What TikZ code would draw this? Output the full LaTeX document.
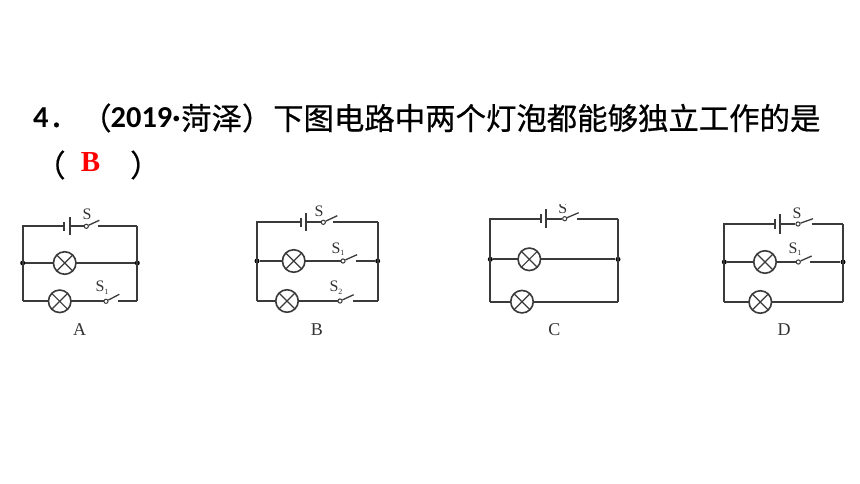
\documentclass[tikz,border=0pt]{standalone}
\usepackage{fontspec}
\setmainfont{Liberation Serif}
\newfontfamily\cjkf[FakeBold=0.6]{Noto Sans CJK SC}
\newfontfamily\latf{Carlito}
\newcommand{\slab}[1]{S\raisebox{-2.5pt}{\fontsize{8}{8}\selectfont #1}}
\definecolor{wirecol}{HTML}{3A3A3A}
\definecolor{labcol}{HTML}{333333}
\tikzset{
  wire/.style={draw=wirecol,line width=1.7pt},
  lamp/.style={circle,draw=wirecol,line width=1.6pt,fill=white,inner sep=0pt,minimum size=22.5pt,
    path picture={\draw[wirecol,line width=1.2pt]
      (path picture bounding box.north west)--(path picture bounding box.south east)
      (path picture bounding box.north east)--(path picture bounding box.south west);}},
  contact/.style={circle,draw=wirecol,line width=1pt,fill=white,inner sep=0pt,minimum size=4.2pt},
  dotj/.style={circle,fill=black,inner sep=0pt,minimum size=5pt},
  lab/.style={text=labcol,font=\fontsize{16}{16}\selectfont,inner sep=0pt},
  letter/.style={text=labcol,font=\fontsize{18}{18}\selectfont,inner sep=0pt},
  cn/.style={anchor=west,inner sep=0pt,text=black,font=\cjkf\fontsize{30.4}{30.4}\selectfont},
  num/.style={anchor=west,inner sep=0pt,text=black,font=\latf\bfseries\fontsize{30.4}{30.4}\selectfont}
}
% #1 prefix, #2 left, #3 right, #4 top, #5 mid, #6 bot, #7 battery short x, #8 battery long x, #9 half height of long plate
\newcommand{\frameparts}[9]{
  \coordinate (#1tl) at (#2,#4); \coordinate (#1tr) at (#3,#4);
  \coordinate (#1bl) at (#2,#6); \coordinate (#1br) at (#3,#6);
  \node[dotj] (#1jl) at (#2,#5) {}; \node[dotj] (#1jr) at (#3,#5) {};
  \coordinate (#1sa) at (#7,#4); \coordinate (#1la) at (#8,#4);
  \coordinate (#1sp) at (#7,#4-#9*0.5); \coordinate (#1sq) at (#7,#4+#9*0.5);
  \coordinate (#1lp) at (#8,#4-#9); \coordinate (#1lq) at (#8,#4+#9);
  \draw[wire] (#1sa) -- (#1tl) -- (#1bl);
  \draw[wire] (#1sp) -- (#1sq);
  \draw[wire] (#1lp) -- (#1lq);
  \draw[wire] (#1tr) -- (#1br);
  \draw[wire] (#1jl) -- (#1jr);
  \draw[wire] (#1bl) -- (#1br);
}
% #1 name, #2 x, #3 y, #4 blade end x, #5 blade end y, #6 resume x
\newcommand{\switchgap}[6]{
  \path[fill=white] (#2,#3-2) rectangle (#6,#3+2);
  \coordinate (#1e) at (#4,#5); \coordinate (#1r) at (#6,#3);
  \node[contact] (#1) at (#2,#3) {};
  \draw[wire,line width=1.3pt] (#1) -- (#1e);
}
\begin{document}
\begin{tikzpicture}[x=1pt,y=-1pt]
\useasboundingbox[fill=white] (0,0) rectangle (860,484);
% heading
\node[num] (t4) at (33,118) {4};
\node[cn] (tdot) at (49,125) {．};
\node[cn] (tpl) at (81,118) {（};
\node[num] (tyear) at (110.5,118) {2019·};
\node[cn] (tplace) at (181,118) {菏泽）};
\node[cn] (tmain) at (273,118) {下图电路中两个灯泡都能够独立工作的是};
\node[cn] (tl2) at (35,165) {（};
\node[anchor=center,inner sep=0pt,text=red,font=\bfseries\fontsize{29}{29}\selectfont] (tans) at (90.5,162) {B};
\node[cn] (tr2) at (130,165) {）};

% circuit A
\frameparts{a}{22.7}{137.3}{226.3}{263}{301.3}{64}{69.7}{9}
\node[lamp] (al1) at (64.7,263) {};
\node[lamp] (al2) at (59.7,301.3) {};
\switchgap{as}{86.3}{226.3}{99.3}{220.3}{97.7}
\switchgap{as1}{106}{301.3}{119.3}{294.3}{118.3}
\draw[wire] (asr) -- (atr);
\node[lab] (asl) at (87,214) {S};
\node[lab] (as1l) at (102,287.7) {\slab{1}};
\node[letter] (aname) at (79.7,330) {A};

% circuit B
\frameparts{b}{257}{377.7}{222.3}{261}{301}{301.3}{306}{9}
\node[lamp] (bl1) at (293.7,261) {};
\node[lamp] (bl2) at (287,301) {};
\switchgap{bs}{323.3}{222.3}{337.3}{215.7}{333.3}
\switchgap{bs1}{343}{261}{357}{254.7}{356}
\switchgap{bs2}{340}{301}{353.7}{294.7}{352.7}
\draw[wire] (bsr) -- (btr);
\node[lab] (bsl) at (319,211.3) {S};
\node[lab] (bs1l) at (338,249) {\slab{1}};
\node[lab] (bs2l) at (336,287.7) {\slab{2}};
\node[letter] (bname) at (317,330) {B};

% circuit C
\frameparts{c}{490.3}{618}{218.7}{259.3}{301.7}{541.3}{546.3}{9.3}
\node[lamp] (cl1) at (529.3,259.3) {};
\node[lamp] (cl2) at (522,301.7) {};
\switchgap{cs}{564.7}{218.7}{578.7}{212.7}{577.3}
\draw[wire] (csr) -- (ctr);
\begin{scope}
\clip (550,204.5) rectangle (575,225);
\node[lab] (csl) at (562.7,208.5) {S};
\end{scope}
\node[letter] (cname) at (554.3,330) {C};

% circuit D
\frameparts{d}{724.3}{843}{224}{262}{302}{775}{780}{9.6}
\node[lamp] (dl1) at (765,262) {};
\node[lamp] (dl2) at (760.3,302) {};
\switchgap{ds}{798}{224}{813}{218.7}{811.7}
\switchgap{ds1}{798.3}{262}{811.7}{256}{810}
\draw[wire] (dsr) -- (dtr);
\node[lab] (dsl) at (797,213.3) {S};
\node[lab] (ds1l) at (795,249.3) {\slab{1}};
\node[letter] (dname) at (784,330) {D};

% battery to switch leads
\draw[wire] (bla) -- (bs);
\draw[wire] (cla) -- (cs);
\draw[wire] (dla) -- (ds);
\draw[wire] (ala) -- (as);
\end{tikzpicture}
\end{document}
